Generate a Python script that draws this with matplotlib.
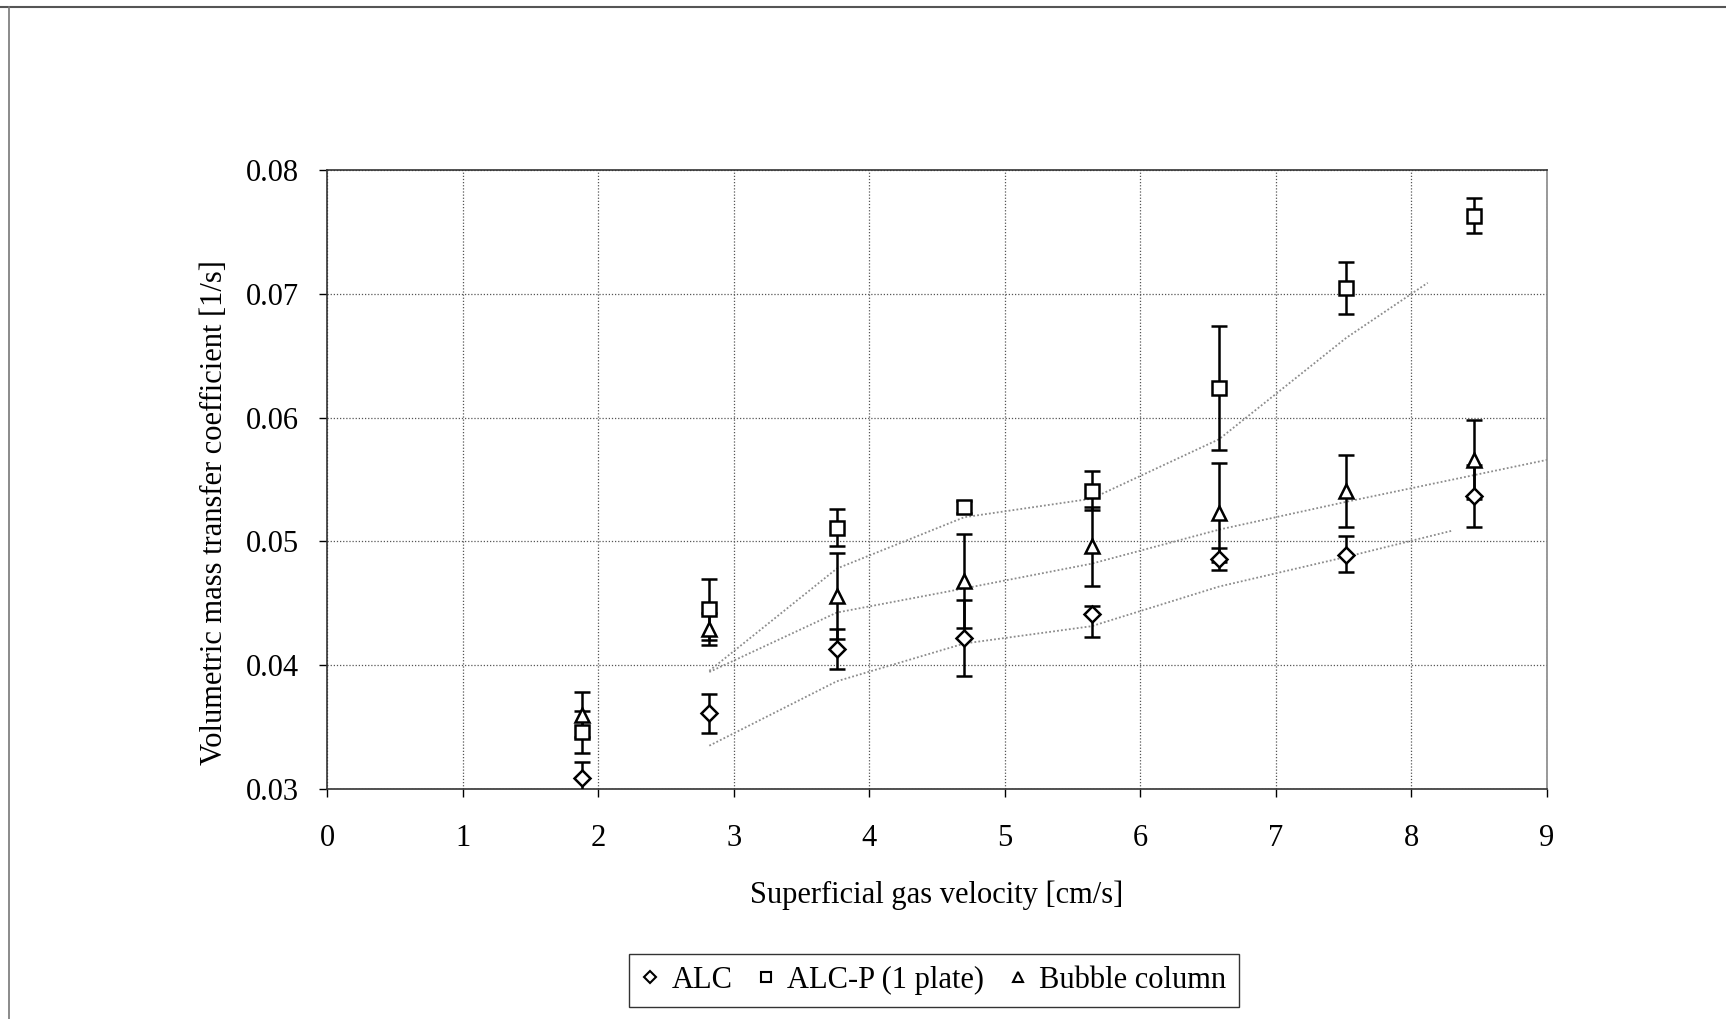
import numpy as np
import matplotlib

matplotlib.use("Agg")
import matplotlib.pyplot as plt
from matplotlib.lines import Line2D

# superficial gas velocity [cm/s]
ug = np.array([1.88, 2.82, 3.76, 4.70, 5.64, 6.58, 7.52, 8.46])

# ALC
alc = np.array([0.0309, 0.0361, 0.0413, 0.0422, 0.0441, 0.0486, 0.0489, 0.0537])
alc_lo = np.array([0.0012, 0.0016, 0.0016, 0.0031, 0.0018, 0.0009, 0.0014, 0.0025])
alc_hi = np.array([0.0013, 0.0016, 0.0016, 0.0031, 0.0007, 0.0009, 0.0015, 0.0025])

# ALC-P (1 plate)
alcp = np.array([0.0346, 0.0445, 0.0511, 0.0528, 0.0541, 0.0624, 0.0705, 0.0763])
alcp_err = np.array([0.0017, 0.0025, 0.0015, 0.0005, 0.0016, 0.0050, 0.0021, 0.0014])

# Bubble column
bc = np.array([0.0360, 0.0429, 0.0456, 0.0468, 0.0496, 0.0523, 0.0541, 0.0566])
bc_err = np.array([0.0018, 0.0013, 0.0035, 0.0038, 0.0032, 0.0040, 0.0029, 0.0032])

labels = ["ALC", "ALC-P (1 plate)", "Bubble column"]
markers = ["D", "s", "^"]
# where each (faded) trend line stops in the scan
trend_end = [8.3, 8.12, 9.0]

plt.rcParams["font.family"] = ["Liberation Serif", "DejaVu Serif"]
plt.rcParams["font.size"] = 22


def trend_line(x, y, x_end):
    """Excel-style 2-period moving average, cut or extended to x_end."""
    mx = x[1:]
    my = (y[:-1] + y[1:]) / 2
    if x_end > mx[-1]:
        slope = (my[-1] - my[-2]) / (mx[-1] - mx[-2])
        return np.append(mx, x_end), np.append(my, my[-1] + slope * (x_end - mx[-1]))
    keep = mx < x_end
    return np.append(mx[keep], x_end), np.append(my[keep], np.interp(x_end, mx, my))


fig = plt.figure(figsize=(17.26, 10.19), dpi=100)
ax = fig.add_axes([0.1895, 0.2257, 0.7068, 0.6075])

series = [(alc, [alc_lo, alc_hi]), (alcp, alcp_err), (bc, bc_err)]
for (y, err), m, end in zip(series, markers, trend_end):
    tx, ty = trend_line(ug, y, end)
    ax.plot(tx, ty, color="#8c8c8c", linestyle=(0, (1, 1.2)), linewidth=1.3, zorder=2)

for (y, err), m in zip(series, markers):
    ms = 8.5 if m == "D" else 10
    ax.errorbar(ug, y, yerr=err, fmt=m, color="black", markerfacecolor="white",
                markeredgecolor="black", markersize=ms, markeredgewidth=1.8,
                ecolor="black", elinewidth=1.8, capsize=6, capthick=1.8, zorder=3)

ax.set_xlim(0, 9)
ax.set_ylim(0.03, 0.08)
ax.set_xticks(range(0, 10))
ax.set_yticks([0.03, 0.04, 0.05, 0.06, 0.07, 0.08])
ax.set_yticklabels([f"{v:.2f}" for v in [0.03, 0.04, 0.05, 0.06, 0.07, 0.08]])
ax.grid(True, color="#555555", linestyle=(0, (1, 1.5)), linewidth=0.9)
ax.set_axisbelow(True)
ax.tick_params(direction="out", length=6, width=1)
ax.tick_params(axis="x", pad=19)
ax.tick_params(axis="y", pad=14)
for s in ax.spines.values():
    s.set_color("#333333")
    s.set_linewidth(1.2)
ax.spines["right"].set_color("#888888")

ax.set_xlabel("Superficial gas velocity [cm/s]", labelpad=20)
ax.set_ylabel("Volumetric mass transfer coefficient [1/s]")
ax.yaxis.set_label_coords(-0.08, 0.447)

handles = [Line2D([], [], linestyle="none", marker=m, markersize=6 if m == "D" else 7,
                  markerfacecolor="white", markeredgecolor="black", markeredgewidth=1.5)
           for m in markers]
leg = fig.legend(handles, labels, loc="center", bbox_to_anchor=(0.541, 0.038), ncol=3,
                 frameon=True, fancybox=False, edgecolor="black", handlelength=0.6,
                 handletextpad=0.4, columnspacing=0.8, borderpad=0.4, fontsize=22)
leg.get_frame().set_linewidth(1.0)

# outer frame of the scanned chart (top and left edges only)
fig.add_artist(Line2D([0.0, 1.0], [0.993, 0.993], transform=fig.transFigure,
                      color="#555555", linewidth=1.5))
fig.add_artist(Line2D([0.005, 0.005], [0.0, 0.993], transform=fig.transFigure,
                      color="#777777", linewidth=1.2))

fig.savefig("out.png", dpi=100)
